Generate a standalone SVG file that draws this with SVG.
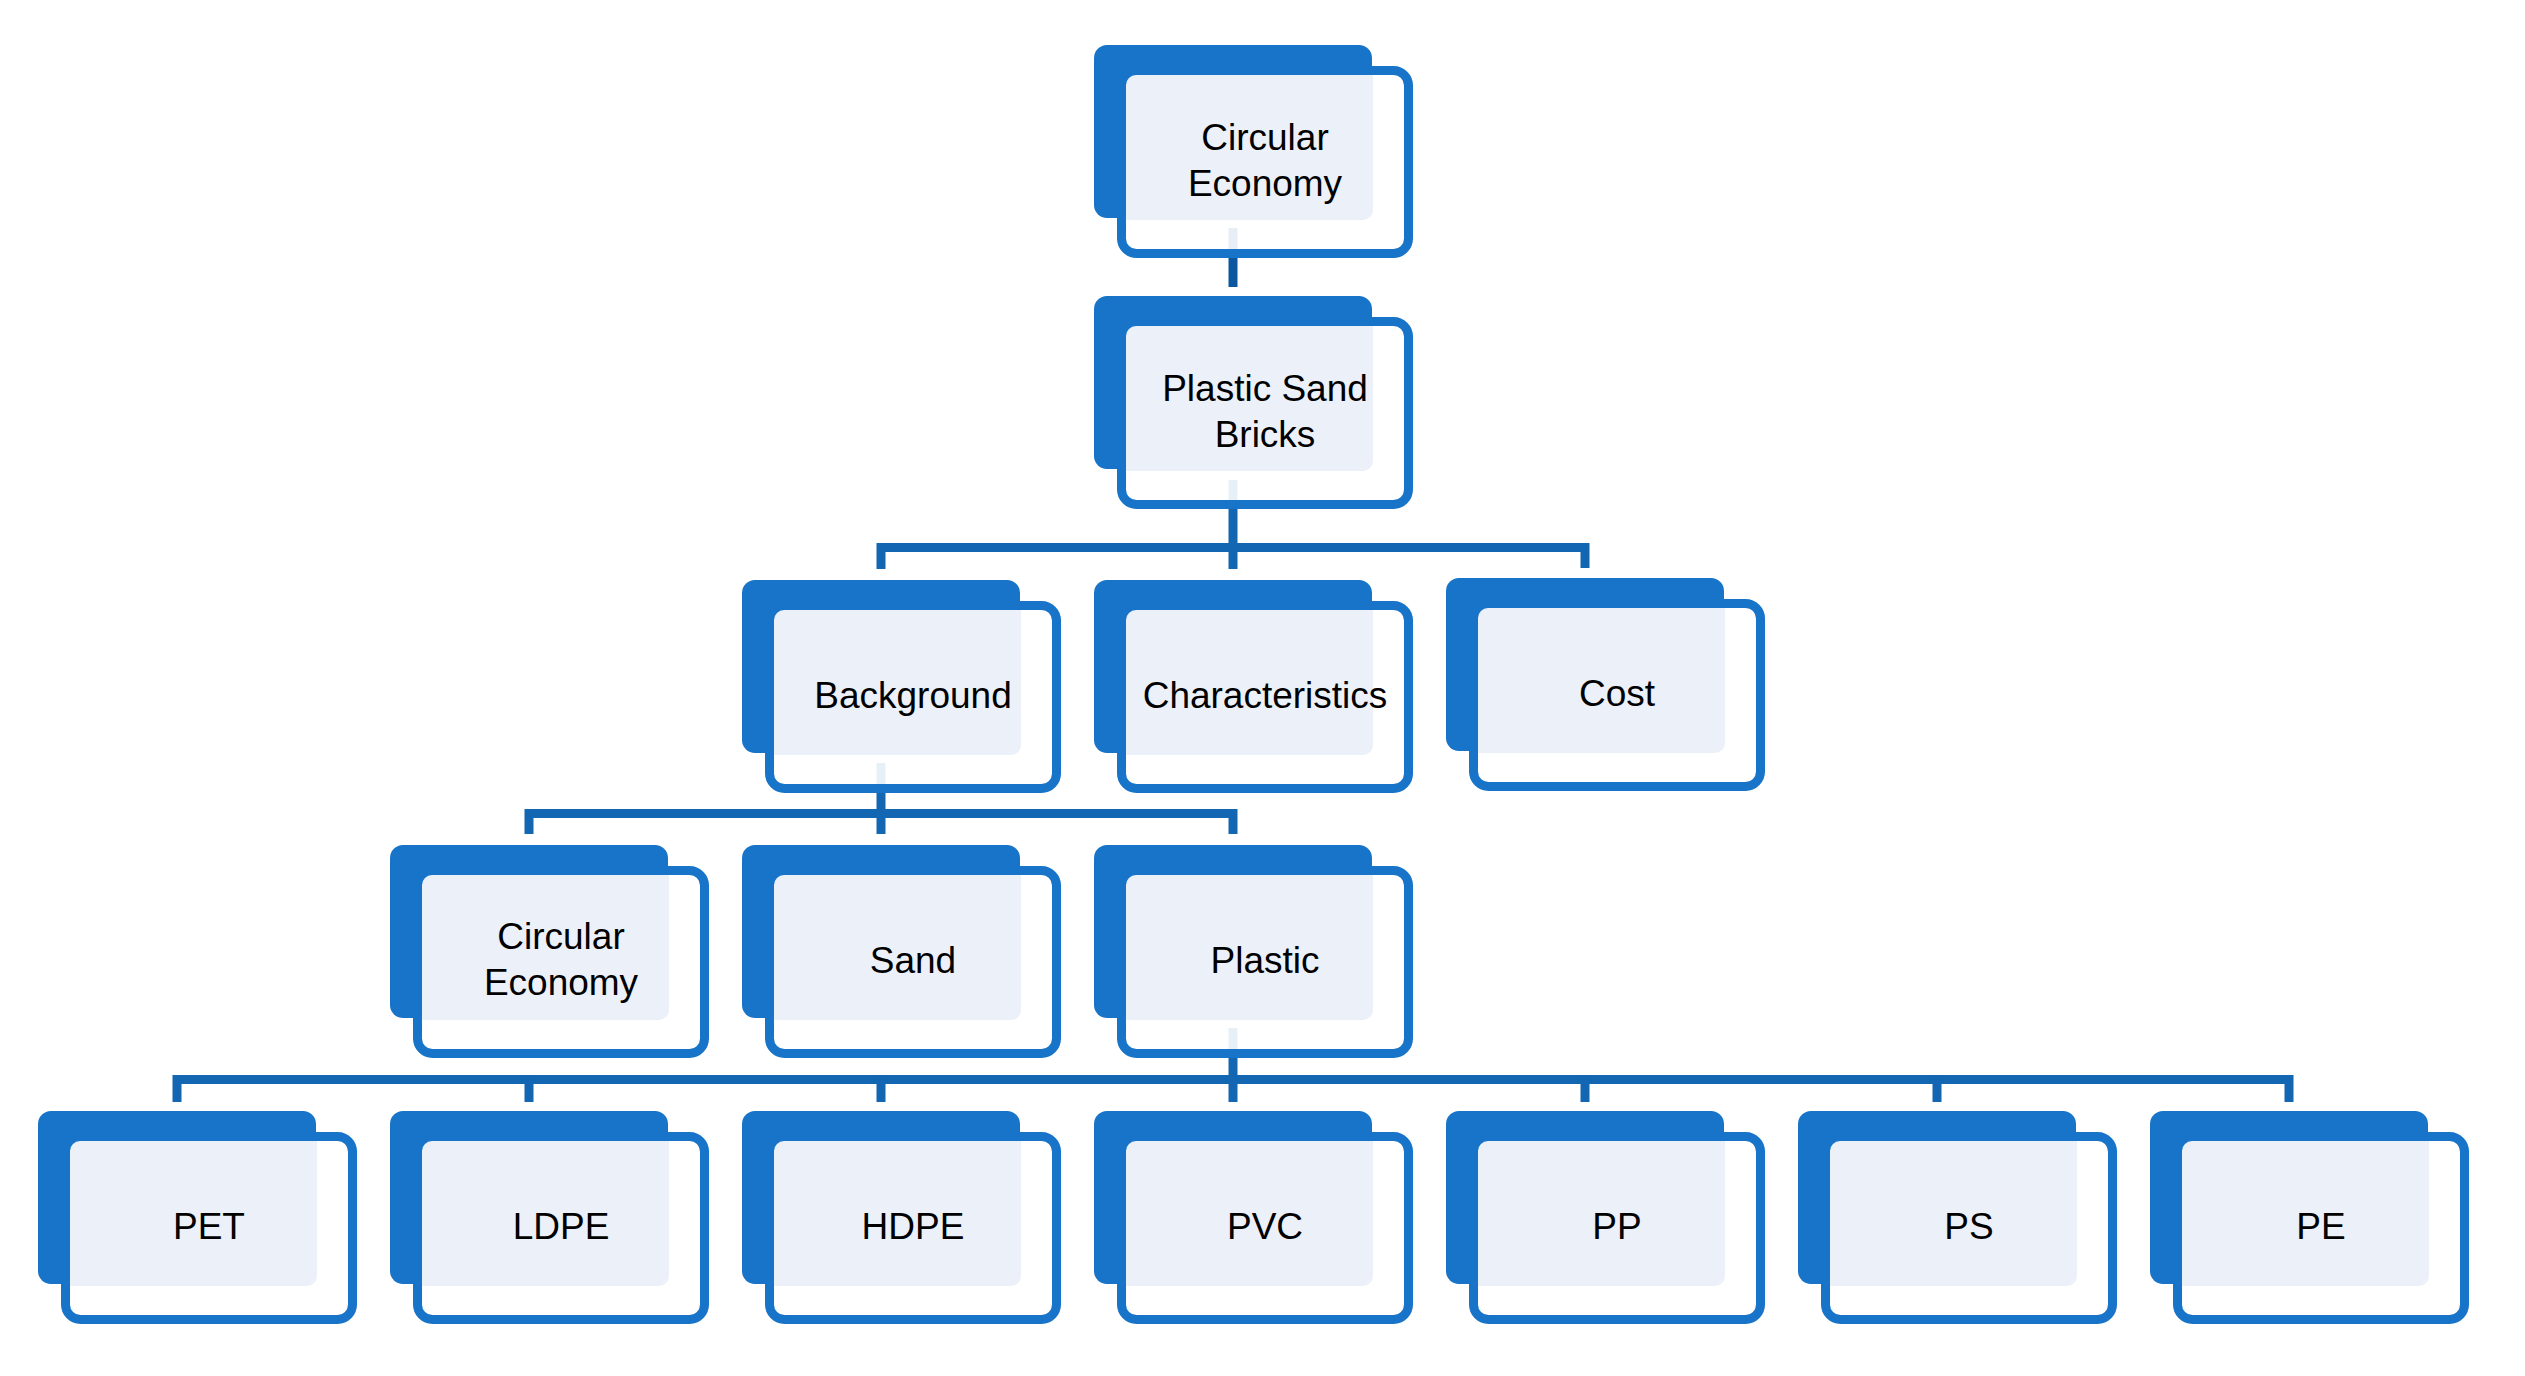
<svg xmlns="http://www.w3.org/2000/svg" xmlns:xlink="http://www.w3.org/1999/xlink" width="2525" height="1376" viewBox="0 0 2525 1376">
<defs>
<style>
.conn{fill:none;stroke:#1366B1;stroke-width:9;stroke-linejoin:miter;stroke-linecap:butt}
.conn.top{stroke:#0B57A0}
.outline{fill:#FFFFFF;fill-opacity:0.9;stroke:#1874C8;stroke-width:9}
.dark{fill:#1874C8}
.light{fill:#ECF0F9}
.lbl{font-family:"Liberation Sans",Arial,sans-serif;font-size:37px;fill:#000000;text-anchor:middle}
</style>
<g id="shape">
<rect class="outline" x="27.5" y="25.5" width="287" height="183" rx="15"/>
<rect class="dark" x="0" y="0" width="278" height="173" rx="13"/>
<path class="light" d="M32,40 A10,10 0 0 1 42,30 H279 V165 A10,10 0 0 1 269,175 H32 Z"/>
</g>
</defs>
<rect width="2525" height="1376" fill="#FFFFFF"/>
<g id="connectors">
<path class="conn top" d="M1233,228 V287"/>
<path class="conn" d="M1233,480 V569"/>
<path class="conn" d="M881,569 V547.5 H1585 V568"/>
<path class="conn" d="M881,763 V834"/>
<path class="conn" d="M529,834 V813.5 H1233 V834"/>
<path class="conn" d="M1233,1028 V1102"/>
<path class="conn" d="M177,1102 V1079.5 H2289 V1102"/>
<path class="conn" d="M529,1079.5 V1102 M881,1079.5 V1102 M1585,1079.5 V1102 M1937,1079.5 V1102"/>
</g>
<g id="node-circular-economy-top" transform="translate(1094,45)">
<use xlink:href="#shape" href="#shape"/>
<text class="lbl" x="171" y="105">Circular</text>
<text class="lbl" x="171" y="151">Economy</text>
</g>
<g id="node-plastic-sand-bricks" transform="translate(1094,296)">
<use xlink:href="#shape" href="#shape"/>
<text class="lbl" x="171" y="105">Plastic Sand</text>
<text class="lbl" x="171" y="151">Bricks</text>
</g>
<g id="node-background" transform="translate(742,580)">
<use xlink:href="#shape" href="#shape"/>
<text class="lbl" x="171" y="128">Background</text>
</g>
<g id="node-characteristics" transform="translate(1094,580)">
<use xlink:href="#shape" href="#shape"/>
<text class="lbl" x="171" y="128">Characteristics</text>
</g>
<g id="node-cost" transform="translate(1446,578)">
<use xlink:href="#shape" href="#shape"/>
<text class="lbl" x="171" y="128">Cost</text>
</g>
<g id="node-circular-economy" transform="translate(390,845)">
<use xlink:href="#shape" href="#shape"/>
<text class="lbl" x="171" y="104">Circular</text>
<text class="lbl" x="171" y="150">Economy</text>
</g>
<g id="node-sand" transform="translate(742,845)">
<use xlink:href="#shape" href="#shape"/>
<text class="lbl" x="171" y="128">Sand</text>
</g>
<g id="node-plastic" transform="translate(1094,845)">
<use xlink:href="#shape" href="#shape"/>
<text class="lbl" x="171" y="128">Plastic</text>
</g>
<g id="node-pet" transform="translate(38,1111)">
<use xlink:href="#shape" href="#shape"/>
<text class="lbl" x="171" y="128">PET</text>
</g>
<g id="node-ldpe" transform="translate(390,1111)">
<use xlink:href="#shape" href="#shape"/>
<text class="lbl" x="171" y="128">LDPE</text>
</g>
<g id="node-hdpe" transform="translate(742,1111)">
<use xlink:href="#shape" href="#shape"/>
<text class="lbl" x="171" y="128">HDPE</text>
</g>
<g id="node-pvc" transform="translate(1094,1111)">
<use xlink:href="#shape" href="#shape"/>
<text class="lbl" x="171" y="128">PVC</text>
</g>
<g id="node-pp" transform="translate(1446,1111)">
<use xlink:href="#shape" href="#shape"/>
<text class="lbl" x="171" y="128">PP</text>
</g>
<g id="node-ps" transform="translate(1798,1111)">
<use xlink:href="#shape" href="#shape"/>
<text class="lbl" x="171" y="128">PS</text>
</g>
<g id="node-pe" transform="translate(2150,1111)">
<use xlink:href="#shape" href="#shape"/>
<text class="lbl" x="171" y="128">PE</text>
</g>
</svg>
